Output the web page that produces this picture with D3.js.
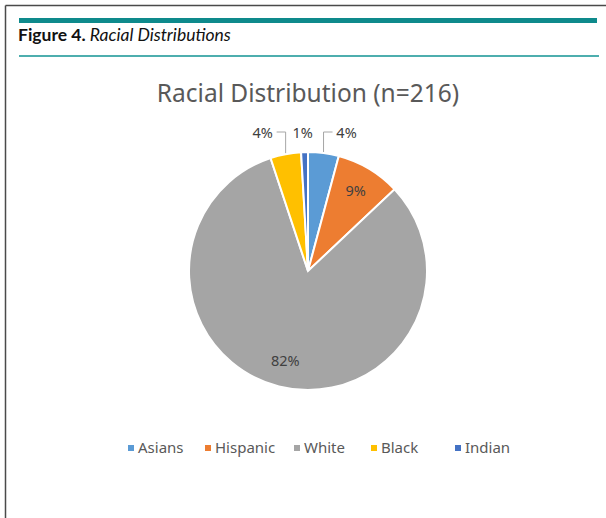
<!DOCTYPE html>
<html>
<head>
<meta charset="utf-8">
<script src="https://cdn.jsdelivr.net/npm/d3@7.9.0/dist/d3.min.js"></script>
<style>
  html, body { margin: 0; padding: 0; background: #fff; }
  svg { display: block; }
</style>
</head>
<body>
<svg id="chart" width="606" height="518"></svg>
<script>
// chart data
const categories = ['Asians', 'Hispanic', 'White', 'Black', 'Indian'];
const counts = [9, 19, 177, 9, 2];
const colorList = ['#5B9BD5', '#ED7D31', '#A5A5A5', '#FFC000', '#4472C4'];
const insideLabels = ['Hispanic', 'White'];

const chartTitle = 'Racial Distribution (n=216)';

const svg = d3.select('#chart');

// frame + figure heading
svg.append('line').attr('x1', 5.5).attr('y1', 5.5).attr('x2', 606).attr('y2', 5.5)
  .attr('stroke', '#4a4a4a').attr('stroke-width', 1.5);
svg.append('line').attr('x1', 5.5).attr('y1', 5.5).attr('x2', 5.5).attr('y2', 518)
  .attr('stroke', '#4a4a4a').attr('stroke-width', 1.5);
svg.append('rect').attr('x', 19).attr('y', 18).attr('width', 578).attr('height', 5)
  .attr('fill', '#0E8A8C');
svg.append('rect').attr('x', 19).attr('y', 55).attr('width', 580).attr('height', 2)
  .attr('fill', '#4DAEAE');

const heading = svg.append('text').attr('x', 18).attr('y', 41)
  .attr('font-family', 'Lato, sans-serif').attr('font-size', 17.5).attr('fill', '#111');
heading.append('tspan').attr('font-weight', 'bold').text('Figure 4.');
heading.append('tspan').attr('font-style', 'italic').text(' Racial Distributions');

// chart title
svg.append('text').attr('x', 308).attr('y', 102).attr('text-anchor', 'middle')
  .attr('font-family', '"Noto Sans", sans-serif').attr('font-size', 24.5)
  .attr('fill', '#595959').text(chartTitle);

// pie
const cx = 308, cy = 271, r = 119;
const total = d3.sum(counts);
const data = categories.map((c, i) => ({ label: c, value: counts[i] }));
const color = d3.scaleOrdinal().domain(categories).range(colorList);

const pie = d3.pie().value(d => d.value).sort(null);
const arcs = pie(data);
const arc = d3.arc().innerRadius(0).outerRadius(r);
const labelArc = d3.arc().innerRadius(93).outerRadius(93);

const g = svg.append('g').attr('transform', `translate(${cx},${cy})`);

g.selectAll('path').data(arcs).join('path')
  .attr('d', arc)
  .attr('fill', d => color(d.data.label))
  .attr('stroke', '#fff')
  .attr('stroke-width', 2);

const fmt = v => Math.round(v / total * 100) + '%';

// inside labels
g.selectAll('text.inside').data(arcs.filter(d => insideLabels.includes(d.data.label)))
  .join('text').attr('class', 'inside')
  .attr('x', d => labelArc.centroid(d)[0])
  .attr('y', d => labelArc.centroid(d)[1])
  .attr('text-anchor', 'middle').attr('dy', '0.35em')
  .attr('font-family', '"Noto Sans", sans-serif').attr('font-size', 14.5)
  .attr('fill', '#404040')
  .text(d => fmt(d.data.value));

// outside labels above the pie with leader lines
const labelY = -r - 19;
arcs.filter(d => !insideLabels.includes(d.data.label)).forEach(d => {
  const mid = (d.startAngle + d.endAngle) / 2;
  const ax = r * Math.sin(mid);
  const ay = -r * Math.cos(mid);
  const s = Math.sin(mid);
  let dir = Math.abs(s) < 0.05 ? 0 : (s > 0 ? 1 : -1);
  const lx = ax + dir * 23;
  if (dir !== 0) {
    g.append('polyline')
      .attr('points', [[ax + dir * 9, labelY - 1], [ax, labelY - 1], [ax, ay - 1]].map(p => p.join(',')).join(' '))
      .attr('fill', 'none').attr('stroke', '#a6a6a6').attr('stroke-width', 1);
  }
  g.append('text')
    .attr('x', dir === 0 ? ax - 2 : lx)
    .attr('y', labelY)
    .attr('text-anchor', 'middle').attr('dy', '0.35em')
    .attr('font-family', '"Noto Sans", sans-serif').attr('font-size', 14.5)
    .attr('fill', '#404040')
    .text(fmt(d.data.value));
});

// legend
const legendX = [128, 205, 294, 371, 455];
const legend = svg.append('g').attr('transform', 'translate(0,448)');
categories.forEach((c, i) => {
  const item = legend.append('g').attr('transform', `translate(${legendX[i]},0)`);
  item.append('rect').attr('x', 0).attr('y', -3).attr('width', 6).attr('height', 6)
    .attr('fill', color(c));
  item.append('text').attr('x', 10).attr('dy', '0.35em')
    .attr('font-family', '"Noto Sans", sans-serif').attr('font-size', 15)
    .attr('fill', '#595959').text(c);
});
</script>
</body>
</html>
